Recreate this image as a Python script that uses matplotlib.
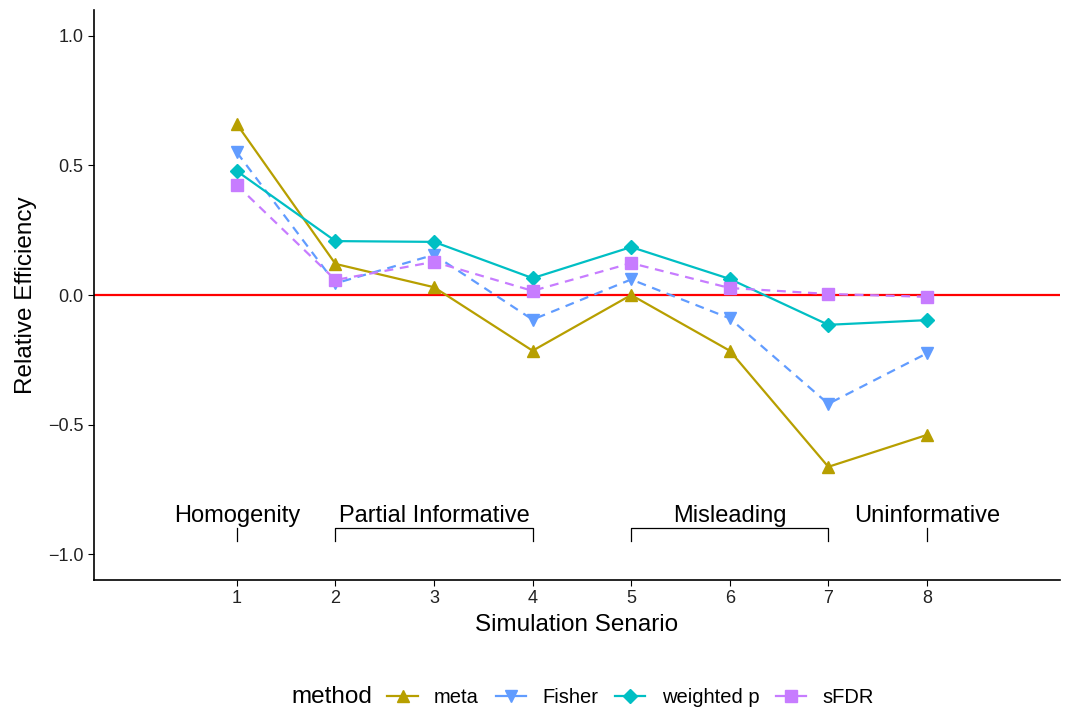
import matplotlib.pyplot as plt
from matplotlib.lines import Line2D
from matplotlib.offsetbox import HPacker

plt.rcParams['font.family'] = ['Liberation Sans', 'DejaVu Sans']
plt.rcParams['axes.unicode_minus'] = True

scenario = [1, 2, 3, 4, 5, 6, 7, 8]
meta = [0.659, 0.12, 0.03, -0.215, 0.0, -0.215, -0.663, -0.54]
fisher = [0.55, 0.045, 0.155, -0.095, 0.06, -0.09, -0.42, -0.225]
weighted_p = [0.478, 0.208, 0.205, 0.065, 0.185, 0.062, -0.115, -0.097]
sfdr = [0.424, 0.058, 0.128, 0.016, 0.123, 0.027, 0.004, -0.007]

groups = ["Homogenity", "Partial Informative", "Misleading", "Uninformative"]
group_start = [1, 2, 5, 8]
group_end = [1, 4, 7, 8]

series = [
    ("meta", meta, "#B79F00", "-", "^"),
    ("Fisher", fisher, "#619CFF", "--", "v"),
    ("weighted p", weighted_p, "#00BFC4", "-", "D"),
    ("sFDR", sfdr, "#C77CFF", "--", "s"),
]

fig = plt.figure(figsize=(10.75, 7.1), dpi=100)
ax = fig.add_axes([0.0874, 0.183, 0.8986, 0.803])

ax.axhline(0, color="red", lw=1.6, zorder=1)

handles = []
for name, vals, col, ls, mk in series:
    ms = 7 if mk == "D" else 8.5
    ax.plot(scenario, vals, color=col, ls=ls, lw=1.6, marker=mk, ms=ms,
            dashes=(4, 3) if ls == "--" else (None, None), zorder=3)
    handles.append(Line2D([], [], color=col, ls="-", lw=1.6, marker=mk, ms=ms))

# scenario brackets
for name, s, e in zip(groups, group_start, group_end):
    if s == e:
        ax.plot([s, s], [-0.9, -0.95], color="black", lw=0.9)
    else:
        ax.plot([s, s, e, e], [-0.95, -0.9, -0.9, -0.95], color="black", lw=0.9)
    ax.text((s + e) / 2, -0.876, name, ha="center", va="baseline", fontsize=17)

ax.set_xlim(-0.45, 9.35)
ax.set_ylim(-1.1, 1.1)
ax.set_xticks(scenario)
ax.set_yticks([-1.0, -0.5, 0.0, 0.5, 1.0])
ax.set_yticklabels(["\u22121.0", "\u22120.5", "0.0", "0.5", "1.0"])
ax.tick_params(labelsize=13, length=4, color="black", labelcolor="#222222")
for side in ["top", "right"]:
    ax.spines[side].set_visible(False)
for side in ["left", "bottom"]:
    ax.spines[side].set_linewidth(1.2)

ax.set_xlabel("Simulation Senario", fontsize=17.5, labelpad=5)
ax.set_ylabel("Relative Efficiency", fontsize=17.5, labelpad=8)

leg = fig.legend(handles, [s[0] for s in series], loc="center", bbox_to_anchor=(0.542, 0.018),
                 ncol=4, frameon=False, fontsize=14.5, title="method", title_fontsize=17.5,
                 handlelength=1.5, columnspacing=0.85, handletextpad=0.8)
# put title to the left of entries
box = leg._legend_box
box._children = [HPacker(children=box._children, align="center", sep=11, pad=0)]

fig.savefig("out.png", dpi=100)
